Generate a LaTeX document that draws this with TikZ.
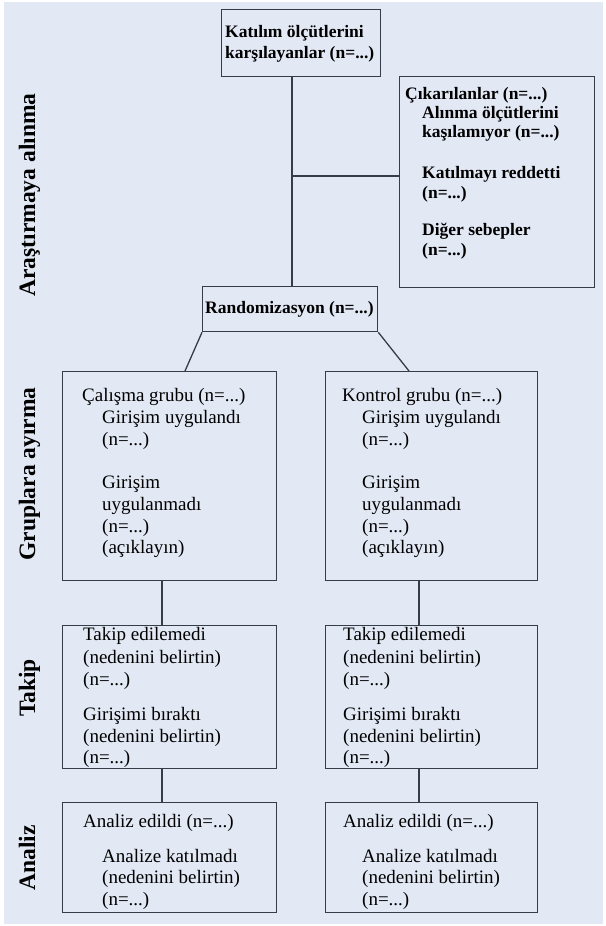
\documentclass[tikz,border=0pt]{standalone}
\usepackage{fontspec}
\setmainfont{Liberation Serif}
\newcommand\nval{(n=...)}
\begin{document}
\begin{tikzpicture}[x=1pt,y=-1pt,font=\fontsize{19}{21.5}\selectfont,
  box/.style={draw=ink,line width=1.3pt,anchor=north west,inner sep=0pt},
  link/.style={draw=ink,line width=1.3pt},
  txt/.style={anchor=base west,inner sep=0pt,text=black},
  hd/.style={txt,font=\bfseries\fontsize{17.5}{19}\selectfont},
  side/.style={rotate=90,anchor=base,inner sep=0pt,font=\bfseries\fontsize{23.5}{25}\selectfont}]
\definecolor{bg}{HTML}{E2E8F4}\definecolor{ink}{HTML}{363C48}
\useasboundingbox (0,0) rectangle (605,926);\fill[bg] (4,2) rectangle (603,924);
% stage labels on the left
\foreach \n/\y/\t in {enrol/195/Araştırmaya alınma,alloc/474/Gruplara ayırma,follow/688/Takip,anal/858/Analiz}{\node[side] (\n) at (35,\y) {\t};}
% enrolment
\node[box,minimum width=159pt,minimum height=67pt] (meet) at (221,9) {};\node[hd] (meet1) at (225,37) {Katılım ölçütlerini};\node[hd] (meet2) at (225,58) {karşılayanlar \nval};
\node[box,minimum width=195pt,minimum height=211pt] (excl) at (399,76) {};\node[hd] (ex0) at (405,99) {Çıkarılanlar \nval};
\foreach \i/\y/\t in {1/118/Alınma ölçütlerini,2/137/kaşılamıyor \nval,3/178/Katılmayı reddetti,4/198/\nval,5/235/Diğer sebepler,6/255/\nval}{\node[hd] (ex\i) at (422,\y) {\t};}
\node[box,minimum width=175pt,minimum height=45pt] (rand) at (202,286) {};\node[hd] (rand1) at (205,313) {Randomizasyon \nval};
\coordinate (spine) at (292,0);\coordinate (tee) at (292,176);
\draw[link] (spine |- meet.south) -- (spine |- rand.north);\draw[link] (tee) -- (tee -| excl.west);
% two arms
\foreach \c/\x/\w/\tx/\lx/\g in {L/62/214/82/162/Çalışma grubu,R/325/212/342/419/Kontrol grubu}{
\node[box,minimum width=\w pt,minimum height=209pt] (grp\c) at (\x,371) {};\node[txt] (grp\c0) at (\tx,401) {\g\ \nval};
\foreach \i/\y/\t in {1/423/Girişim uygulandı,2/445/\nval,3/488/Girişim,4/510/uygulanmadı,5/532/\nval,6/553/(açıklayın)}{\node[txt] (grp\c\i) at (\tx+20,\y) {\t};}
\node[box,minimum width=\w pt,minimum height=143pt] (fu\c) at (\x,625) {};
\foreach \i/\y/\t in {1/640/Takip edilemedi,2/663/(nedenini belirtin),3/685/\nval,4/720/Girişimi bıraktı,5/742/(nedenini belirtin),6/763/\nval}{\node[txt] (fu\c\i) at (\tx+1,\y) {\t};}
\node[box,minimum width=\w pt,minimum height=110pt] (an\c) at (\x,802) {};\node[txt] (an\c0) at (\tx+1,827) {Analiz edildi \nval};
\foreach \i/\y/\t in {1/862/Analize katılmadı,2/883/(nedenini belirtin),3/905/\nval}{\node[txt] (an\c\i) at (\tx+20,\y) {\t};}
\coordinate (col\c) at (\lx,0);
\draw[link] (col\c |- grp\c.south) -- (col\c |- fu\c.north);\draw[link] (col\c |- fu\c.south) -- (col\c |- an\c.north);}
\draw[link] (rand.south west) -- ([xshift=123pt]grpL.north west);\draw[link] (rand.south east) -- ([xshift=84pt]grpR.north west);
\end{tikzpicture}
\end{document}
